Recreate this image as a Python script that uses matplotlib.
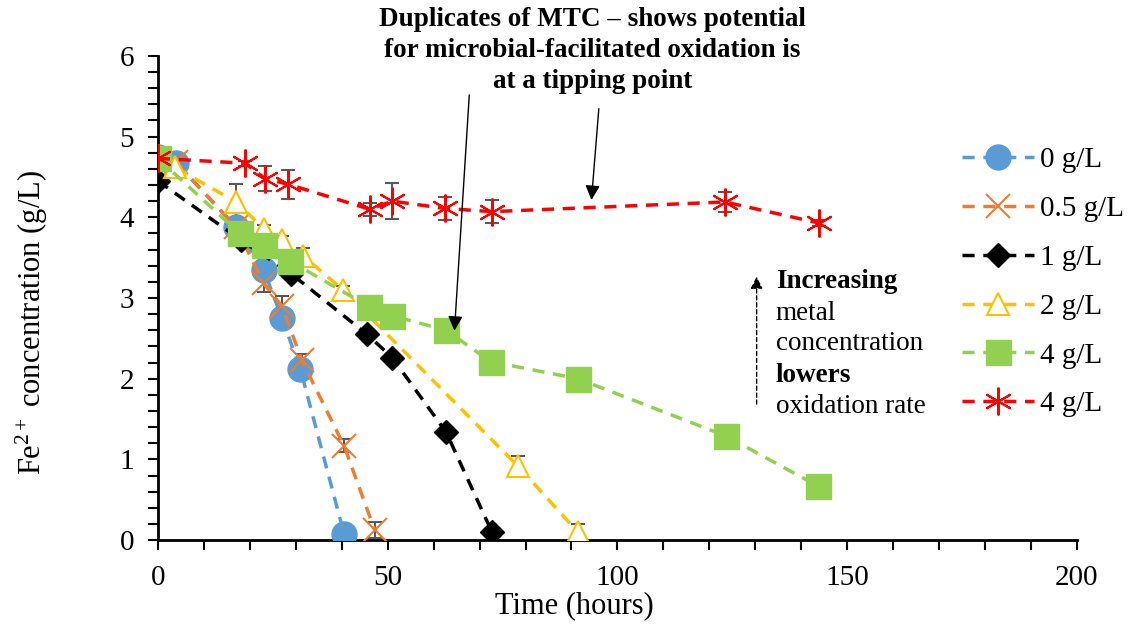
import matplotlib
matplotlib.use("Agg")
import matplotlib.pyplot as plt
from matplotlib.ticker import MultipleLocator

plt.rcParams['font.family'] = ['Liberation Serif', 'DejaVu Serif']
plt.rcParams['mathtext.fontset'] = 'custom'
plt.rcParams['mathtext.rm'] = 'Liberation Serif'
plt.rcParams['mathtext.it'] = 'Liberation Serif:italic'
plt.rcParams['mathtext.bf'] = 'Liberation Serif:bold'

# data
labels = ['0 g/L', '0.5 g/L', '1 g/L', '2 g/L', '4 g/L', '4 g/L']

t_0 = [0, 4, 17, 23, 27, 31, 40.5]
fe_0 = [4.75, 4.67, 3.88, 3.35, 2.75, 2.12, 0.08]
err_0 = [0.05, 0.05, 0.06, 0.08, 0.08, 0.06, 0.03]

t_05 = [0, 4, 17, 23, 27, 31.3, 40.5, 47.2]
fe_05 = [4.72, 4.68, 3.88, 3.18, 2.9, 2.23, 1.17, 0.12]
err_05 = [0.05, 0.05, 0.06, 0.1, 0.12, 0.08, 0.08, 0.1]

t_1 = [0, 18, 29, 45.5, 51, 62.7, 72.7]
fe_1 = [4.45, 3.72, 3.3, 2.55, 2.26, 1.34, 0.1]
err_1 = [0.03, 0.05, 0.05, 0.04, 0.04, 0.04, 0.03]

t_2 = [0, 3.7, 17, 23, 27, 31.6, 40.3, 78.3, 91.4]
fe_2 = [4.73, 4.62, 4.19, 3.86, 3.72, 3.52, 3.1, 0.92, 0.1]
err_2 = [0.04, 0.05, 0.22, 0.05, 0.05, 0.1, 0.05, 0.12, 0.1]

t_4a = [0, 17.8, 23, 28.7, 46, 51, 62.7, 72.5, 91.4, 123.6, 143.6]
fe_4a = [4.73, 3.8, 3.66, 3.46, 2.89, 2.78, 2.6, 2.21, 2.0, 1.29, 0.67]
err_4a = [0.03, 0.03, 0.03, 0.03, 0.03, 0.03, 0.03, 0.03, 0.03, 0.03, 0.03]

t_4b = [0, 19, 23.3, 28.3, 46.1, 51, 62.5, 72.7, 123.4, 143.8]
fe_4b = [4.73, 4.67, 4.48, 4.41, 4.1, 4.2, 4.11, 4.07, 4.19, 3.93]
err_4b = [0.03, 0.03, 0.15, 0.18, 0.08, 0.22, 0.14, 0.14, 0.12, 0.04]

colors = ['#5B9BD5', '#ED7D31', '#000000', '#FFC000', '#92D050', '#FF0000']

fig = plt.figure(figsize=(11.36, 6.28), dpi=100)
ax = fig.add_axes([0.139, 0.14, 0.809, 0.771])

series = [
    (t_0, fe_0, err_0, dict(marker='o', markersize=18, mfc=colors[0], mec=colors[0])),
    (t_05, fe_05, err_05, dict(marker='x', markersize=17, mew=1.5, mec=colors[1])),
    (t_1, fe_1, err_1, dict(marker='D', markersize=12.5, mfc=colors[2], mec=colors[2])),
    (t_2, fe_2, err_2, dict(marker='^', markersize=16, mfc='white', mec=colors[3], mew=1.5)),
    (t_4a, fe_4a, err_4a, dict(marker='s', markersize=18, mfc=colors[4], mec=colors[4])),
    (t_4b, fe_4b, err_4b, dict(marker=(6, 2, 0), markersize=20, mew=1.5, mec=colors[5])),
]

handles = []
for (t, fe, err, mk), c, lab in zip(series, colors, labels):
    ax.errorbar(t, fe, yerr=err, fmt='none', ecolor='#595959', elinewidth=1.5,
                capsize=5, capthick=1.5, zorder=2)
    h, = ax.plot(t, fe, color=c, linestyle=(0, (3.5, 2.5)), linewidth=2.5,
                 label=lab, zorder=3, **mk)
    handles.append(h)

ax.set_xlim(0, 200)
ax.set_ylim(0, 6)
ax.xaxis.set_major_locator(MultipleLocator(50))
ax.xaxis.set_minor_locator(MultipleLocator(10))
ax.yaxis.set_major_locator(MultipleLocator(1))
ax.yaxis.set_minor_locator(MultipleLocator(0.2))
ax.tick_params(which='both', direction='out', width=1.5, labelsize=21)
ax.tick_params(which='major', length=7)
ax.tick_params(which='minor', length=7)
ax.tick_params(axis='x', which='major', pad=11)
ax.tick_params(axis='y', which='major', pad=10)
for side in ['top', 'right']:
    ax.spines[side].set_visible(False)
for side in ['left', 'bottom']:
    ax.spines[side].set_linewidth(2)

ax.set_xlabel('Time (hours)', fontsize=22)
ax.set_ylabel('Fe$^{2+}$ concentration (g/L)', fontsize=22)
ax.xaxis.set_label_coords(0.453, -0.105)
ax.yaxis.set_label_coords(-0.117, 0.45)

leg = fig.legend(handles=handles, labels=labels, loc='upper left',
                 bbox_to_anchor=(0.837, 0.785), frameon=False, fontsize=21,
                 handlelength=2.45, labelspacing=0.77, handletextpad=0.2,
                 borderaxespad=0)

# annotations
ax.text(0.473, 1.1, 'Duplicates of MTC \u2013 shows potential\nfor microbial-facilitated oxidation is\nat a tipping point',
        transform=ax.transAxes, ha='center', va='top', fontsize=19.5,
        fontweight='bold', linespacing=1.3)
ax.annotate('', xy=(64.5, 2.56), xytext=(67.8, 5.55),
            arrowprops=dict(arrowstyle='-|>', color='black', lw=1,
                            mutation_scale=22))
ax.annotate('', xy=(94.3, 4.18), xytext=(96, 5.38),
            arrowprops=dict(arrowstyle='-|>', color='black', lw=1,
                            mutation_scale=22))
ax.annotate('', xy=(130.3, 3.3), xytext=(130.3, 1.65),
            arrowprops=dict(arrowstyle='-|>', color='black', lw=1,
                            linestyle=(0, (3, 2)), mutation_scale=18))
ax.text(134.5, 3.2, 'Increasing', fontsize=19.5, fontweight='bold', va='center')
ax.text(134.5, 2.81, 'metal', fontsize=19.5, va='center')
ax.text(134.5, 2.43, 'concentration', fontsize=19.5, va='center')
ax.text(134.5, 2.04, 'lowers', fontsize=19.5, fontweight='bold', va='center')
ax.text(134.5, 1.66, 'oxidation rate', fontsize=19.5, va='center')

fig.savefig('out.png', dpi=100)
